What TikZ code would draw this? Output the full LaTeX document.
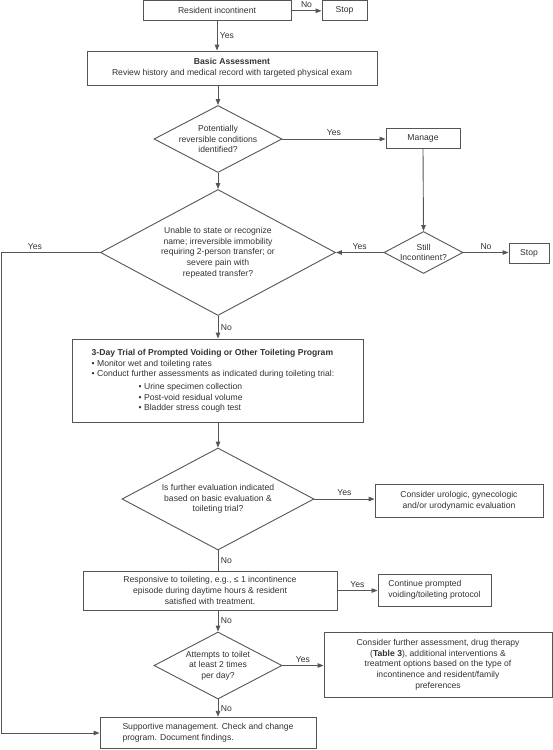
\documentclass[tikz,border=0pt]{standalone}
\usepackage{fontspec}
\setmainfont{Liberation Sans}
\usetikzlibrary{arrows.meta,positioning,shapes.geometric,calc}
\definecolor{flowline}{RGB}{85,85,85}
\definecolor{flowtext}{RGB}{50,50,50}

\begin{document}
\begin{tikzpicture}[x=1pt, y=-1pt, >={Triangle[length=6pt,width=4.5pt]}, font=\fontsize{8.6pt}{10.7pt}\selectfont, text=flowtext,
  box/.style={draw=flowline, line width=0.9pt, inner sep=2pt, align=center},
  decision/.style={draw=flowline, line width=0.9pt, diamond, inner sep=0pt},
  link/.style={draw=flowline, line width=0.9pt},
  lbl/.style={inner sep=2.5pt}]
  \useasboundingbox (0,0) rectangle (553,750);

  % top row
  \node[box, minimum width=148pt, minimum height=20pt] (resident) at (217,10.8) {Resident incontinent};
  \node[box, minimum width=45pt, minimum height=20pt] (stopa) at (344.5,10.8) {Stop};
  \node[box, minimum width=290pt, minimum height=34pt] (basic) at (232,68) {\textbf{Basic Assessment}\\Review history and medical record with targeted physical exam};

  % reversible conditions
  \node[decision, minimum width=128pt, minimum height=67pt] (revers) at (218,139) {};
  \node[align=center] (reverstxt) at (revers) {Potentially\\reversible conditions\\identified?};
  \node[box, minimum width=74pt, minimum height=20pt] (manage) at (423,138) {Manage};

  % immobility question
  \node[decision, minimum width=235pt, minimum height=126pt] (unable) at (218,252.5) {};
  \node[align=center] (unabletxt) at (unable) {Unable to state or recognize\\name; irreversible immobility\\requiring 2-person transfer; or\\severe pain with\\repeated transfer?};
  \node[decision, minimum width=79pt, minimum height=42pt] (still) at (423.5,252.5) {};
  \node[align=center] (stilltxt) at (still) {Still\\Incontinent?};
  \node[box, minimum width=40pt, minimum height=20pt] (stopb) at (529,253.5) {Stop};

  % toileting trial
  \node[box, minimum width=291pt, minimum height=83pt] (trial) at (217.5,380.5) {};
  \node[anchor=north west, inner sep=0pt, align=left] (trialtxt) at (91.5,349) {\textbf{3-Day Trial of Prompted Voiding or Other Toileting Program}\\
    \textbullet{} Monitor wet and toileting rates\\
    \textbullet{} Conduct further assessments as indicated during toileting trial:\\[2pt]
    \hspace*{47pt}\textbullet{} Urine specimen collection\\
    \hspace*{47pt}\textbullet{} Post-void residual volume\\
    \hspace*{47pt}\textbullet{} Bladder stress cough test};

  \node[decision, minimum width=192pt, minimum height=102pt] (further) at (218,499) {};
  \node[align=center] (furthertxt) at (further) {Is further evaluation indicated\\based on basic evaluation \&\\toileting trial?};
  \node[box, minimum width=168pt, minimum height=33pt] (urologic) at (459,500.5) {Consider urologic, gynecologic\\and/or urodynamic evaluation};

  \node[box, minimum width=254pt, minimum height=39pt] (respons) at (210,590.5) {Responsive to toileting, e.g., ≤ 1 incontinence\\episode during daytime hours \& resident\\satisfied with treatment.};
  \node[box, align=left, minimum width=113pt, minimum height=32pt] (continue) at (434.5,590) {Continue prompted\\voiding/toileting protocol};

  \node[decision, minimum width=128pt, minimum height=67pt] (attempts) at (218,665.5) {};
  \node[align=center] (attemptstxt) at (attempts) {Attempts to toilet\\at least 2 times\\per day?};
  \node[box, minimum width=228pt, minimum height=65pt] (consider) at (438,664.5) {Consider further assessment, drug therapy\\(\textbf{Table 3}), additional interventions \&\\treatment options based on the type of\\incontinence and resident/family\\preferences};

  \node[box, align=left, minimum width=216pt, minimum height=31.5pt] (support) at (208,733) {Supportive management. Check and change\\program. Document findings.};
  \coordinate (rail) at (1.5,252.5);

  % connectors
  \draw[link, ->] (resident.east) -- node[lbl, above] {No} (stopa.west);
  \draw[link, ->] (resident.south) -- node[lbl, right] {Yes} (resident.south |- basic.north);
  \draw[link, ->] (revers.north |- basic.south) -- (revers.north);
  \draw[link, ->] (revers.east) -- node[lbl, above] {Yes} (revers.east -| manage.west);
  \draw[link, ->] (revers.south) -- (unable.north);
  \draw[link, ->] (manage.south) -- (still.north);
  \draw[link, ->] (still.east) -- node[lbl, above] {No} (still.east -| stopb.west);
  \draw[link, ->] (still.west) -- node[lbl, above] {Yes} (unable.east);
  \draw[link, ->] (unable.west) -- node[lbl, above, pos=0.66] {Yes} (rail) |- (support.west);
  \draw[link, ->] (unable.south) -- node[lbl, right] {No} (unable.south |- trial.north);
  \draw[link, ->] (further.north |- trial.south) -- (further.north);
  \draw[link, ->] (further.east) -- node[lbl, above] {Yes} (further.east -| urologic.west);
  \draw[link] (further.south) -- node[lbl, right] {No} (further.south |- respons.north);
  \draw[link, ->] (respons.east) -- node[lbl, above] {Yes} (respons.east -| continue.west);
  \draw[link, ->] (attempts.north |- respons.south) -- node[lbl, right] {No} (attempts.north);
  \draw[link, ->] (attempts.east) -- node[lbl, above] {Yes} (attempts.east -| consider.west);
  \draw[link, ->] (attempts.south) -- node[lbl, right] {No} (attempts.south |- support.north);
\end{tikzpicture}
\end{document}
